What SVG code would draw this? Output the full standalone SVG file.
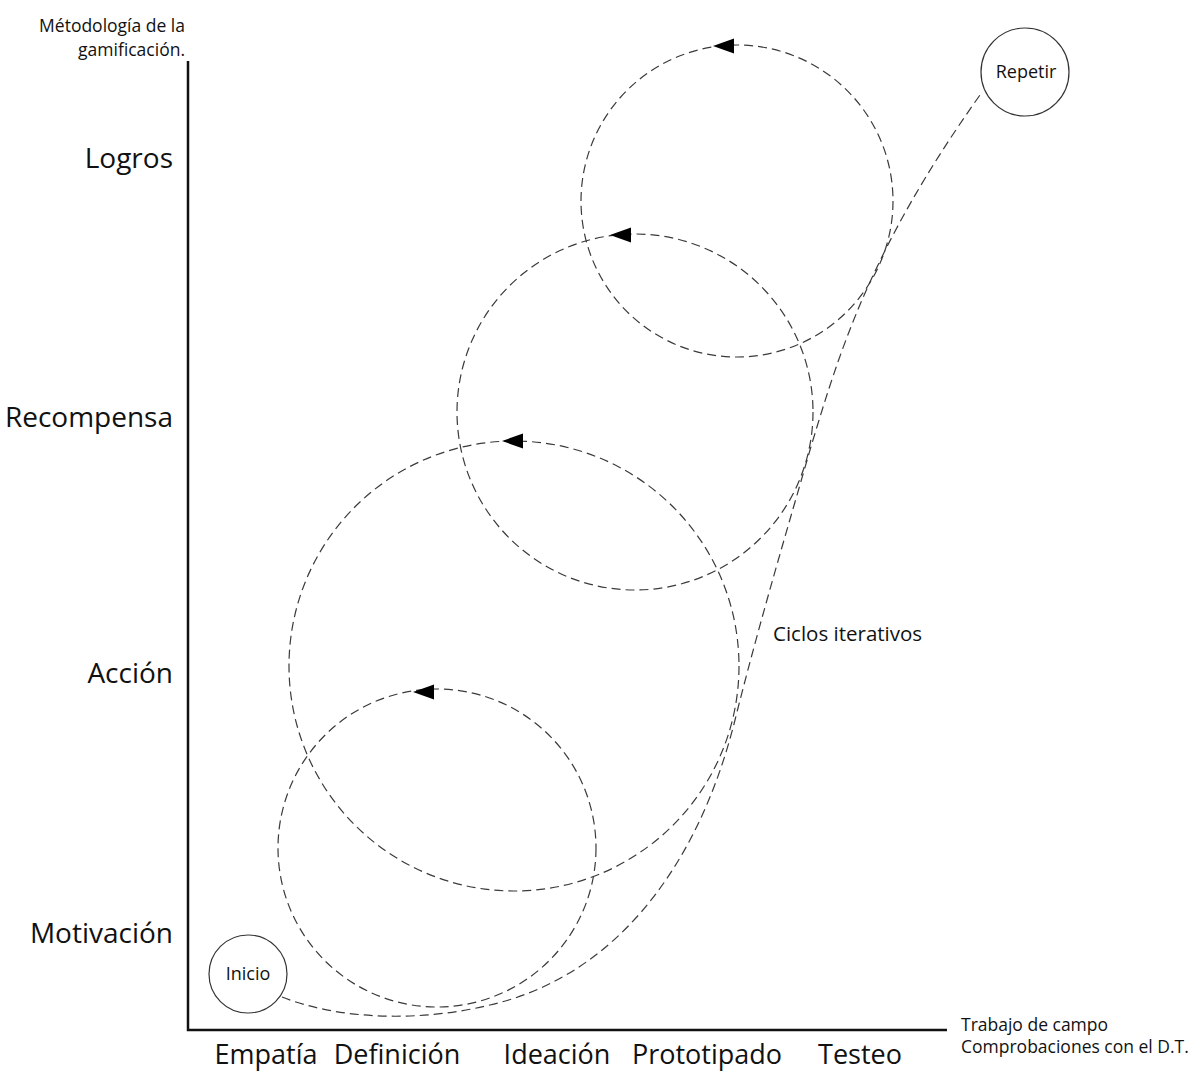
<svg xmlns="http://www.w3.org/2000/svg" width="1200" height="1073" viewBox="0 0 1200 1073">
<style>
text{font-family:"Open Sans","Noto Sans",sans-serif;fill:#111}
.big{font-size:28px}
.xl{font-size:27px}
.sm{font-size:17.5px}
.dash{fill:none;stroke:#3a3a3a;stroke-width:1.2;stroke-dasharray:9 5}
.node{fill:#fff;stroke:#333;stroke-width:1.2}
</style>
<rect width="1200" height="1073" fill="#fff"/>
<g id="axes" stroke="#111" stroke-width="2.5" fill="none">
<path d="M188,61 V1030 H947"/>
</g>
<g id="axis-labels">
<text class="sm" x="185" y="32" text-anchor="end">Métodología de la</text>
<text class="sm" x="185" y="56" text-anchor="end">gamificación.</text>
<text class="big" x="173" y="168" text-anchor="end">Logros</text>
<text class="big" x="173" y="427" text-anchor="end">Recompensa</text>
<text class="big" x="173" y="683" text-anchor="end">Acción</text>
<text class="big" x="173" y="943" text-anchor="end">Motivación</text>
<text class="xl" x="266" y="1064" text-anchor="middle">Empatía</text>
<text class="xl" x="397" y="1064" text-anchor="middle">Definición</text>
<text class="xl" x="557" y="1064" text-anchor="middle">Ideación</text>
<text class="xl" x="707" y="1064" text-anchor="middle">Prototipado</text>
<text class="xl" x="860" y="1064" text-anchor="middle">Testeo</text>
<text class="sm" x="961" y="1031">Trabajo de campo</text>
<text class="sm" x="961" y="1053">Comprobaciones con el D.T.</text>
</g>
<g id="connectors">
<circle id="cycle1" class="dash" cx="437" cy="848" r="159"/>
<circle id="cycle2" class="dash" cx="514" cy="666" r="225"/>
<circle id="cycle3" class="dash" cx="635" cy="412" r="178"/>
<circle id="cycle4" class="dash" cx="737" cy="201" r="156"/>
<path id="path" class="dash" d="M282,997 C340,1020 420,1022 490,1005 C620,975 700,860 735,720 C760,620 790,520 810,450 C840,350 870,250 980,95"/>
<g fill="#000">
<path d="M413,692 L434,684.5 L434,699.5 Z"/>
<path d="M502,441 L523,433.5 L523,448.5 Z"/>
<path d="M610,235 L631,227.5 L631,242.5 Z"/>
<path d="M713,46 L734,38.5 L734,53.5 Z"/>
</g>
</g>
<g id="node-inicio">
<circle class="node" cx="248" cy="974" r="39"/>
<text x="248" y="980" text-anchor="middle" style="font-size:18px">Inicio</text>
</g>
<g id="node-repetir">
<circle class="node" cx="1025" cy="72" r="44"/>
<text x="1026" y="78" text-anchor="middle" style="font-size:18px">Repetir</text>
</g>
<g id="label-ciclos">
<text x="773" y="641" style="font-size:20.5px">Ciclos iterativos</text>
</g>
</svg>
